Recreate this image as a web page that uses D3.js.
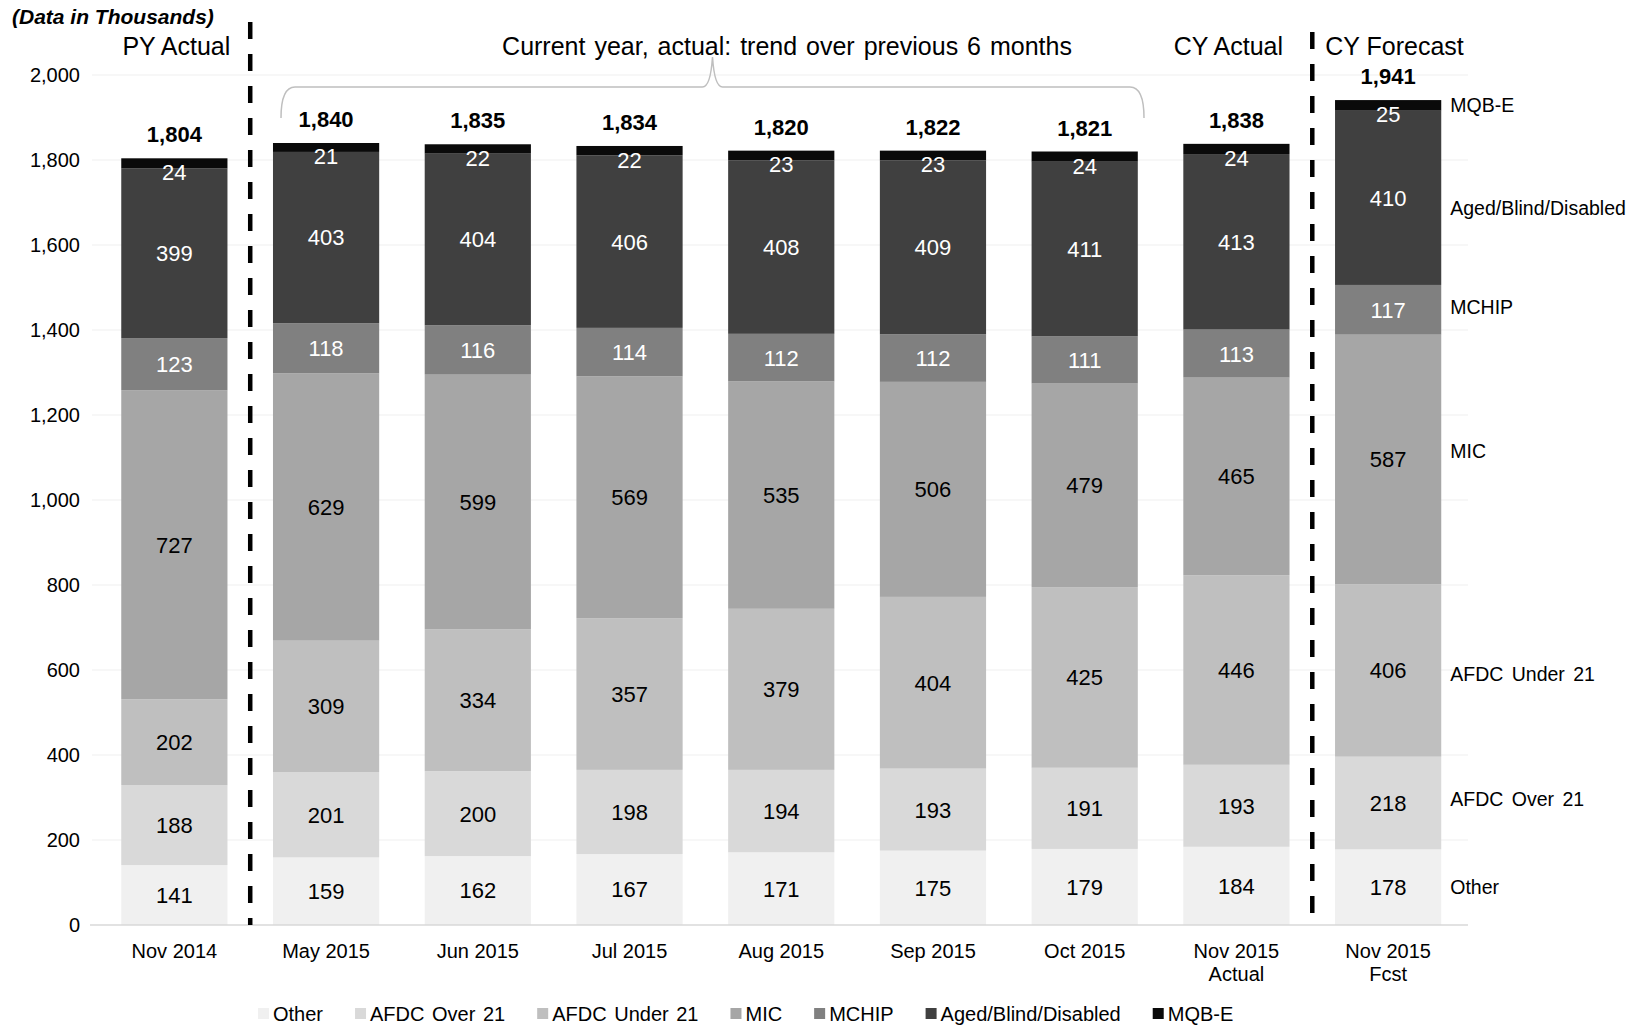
<!DOCTYPE html>
<html>
<head>
<meta charset="utf-8">
<script src="https://cdn.jsdelivr.net/npm/d3@7"></script>
<style>
  body { margin: 0; background: #fff; }
  text { font-family: "Liberation Sans", Arial, sans-serif; }
</style>
</head>
<body>
<script>
// values in thousands
const months = ["Nov 2014", "May 2015", "Jun 2015", "Jul 2015", "Aug 2015", "Sep 2015", "Oct 2015", "Nov 2015\nActual", "Nov 2015\nFcst"];
const seriesNames = ["Other", "AFDC Over 21", "AFDC Under 21", "MIC", "MCHIP", "Aged/Blind/Disabled", "MQB-E"];
const other = [141, 159, 162, 167, 171, 175, 179, 184, 178];
const afdcOver21 = [188, 201, 200, 198, 194, 193, 191, 193, 218];
const afdcUnder21 = [202, 309, 334, 357, 379, 404, 425, 446, 406];
const mic = [727, 629, 599, 569, 535, 506, 479, 465, 587];
const mchip = [123, 118, 116, 114, 112, 112, 111, 113, 117];
const abd = [399, 403, 404, 406, 408, 409, 411, 413, 410];
const mqbe = [24, 21, 22, 22, 23, 23, 24, 24, 25];
const totals = [1804, 1840, 1835, 1834, 1820, 1822, 1821, 1838, 1941];
const yTicks = [0, 200, 400, 600, 800, 1000, 1200, 1400, 1600, 1800, 2000];

const seriesValues = [other, afdcOver21, afdcUnder21, mic, mchip, abd, mqbe];
const colors = ["#f0f0f0", "#d9d9d9", "#bfbfbf", "#a6a6a6", "#808080", "#404040", "#0a0a0a"];
const labelColors = ["#000", "#000", "#000", "#000", "#fff", "#fff", "#fff"];

const W = 1648, H = 1028;
const svg = d3.select("body").append("svg").attr("width", W).attr("height", H);

const x = d3.scaleBand().domain(months).range([98.5, 1464]).paddingInner(0.3).paddingOuter(0.15);
const y = d3.scaleLinear().domain([0, 2000]).range([925, 75]);

// table for the stack
const table = months.map((m, i) => {
    const row = { month: m };
    seriesNames.forEach((s, k) => { row[s] = seriesValues[k][i]; });
    return row;
});
const stacked = d3.stack().keys(seriesNames)(table);

// gridlines
svg.append("g")
    .selectAll("line")
    .data(yTicks.filter(d => d > 0))
    .enter()
    .append("line")
    .attr("x1", 92).attr("x2", 1468)
    .attr("y1", d => y(d)).attr("y2", d => y(d))
    .attr("stroke", "#efefef").attr("stroke-width", 1);

// y axis labels
const yAxis = d3.axisLeft(y).tickValues(yTicks).tickSize(0).tickPadding(0).tickFormat(d3.format(","));
svg.append("g")
    .attr("transform", "translate(80,0)")
    .call(yAxis)
    .call(g => g.select(".domain").remove())
    .selectAll("text")
    .attr("font-size", 20).attr("fill", "#000")
    .attr("font-family", "Liberation Sans, Arial, sans-serif");

// bars
const layer = svg.append("g").selectAll("g")
    .data(stacked)
    .enter()
    .append("g")
    .attr("fill", (d, i) => colors[i]);

layer.selectAll("rect")
    .data(d => d)
    .enter()
    .append("rect")
    .attr("x", d => x(d.data.month))
    .attr("width", x.bandwidth())
    .attr("y", d => y(d[1]))
    .attr("height", d => y(d[0]) - y(d[1]));

// baseline
svg.append("line")
    .attr("x1", 90).attr("x2", 1468)
    .attr("y1", y(0)).attr("y2", y(0))
    .attr("stroke", "#d9d9d9").attr("stroke-width", 1.5);

// segment labels
stacked.forEach((s, k) => {
    svg.append("g").selectAll("text")
        .data(s)
        .enter()
        .append("text")
        .attr("x", d => x(d.data.month) + x.bandwidth() / 2)
        .attr("y", d => (y(d[0]) + y(d[1])) / 2 + (k === 6 ? 9 : 0))
        .attr("dy", "0.36em")
        .attr("text-anchor", "middle")
        .attr("font-size", 22)
        .attr("fill", labelColors[k])
        .text((d, i) => seriesValues[k][i]);
});

// totals
svg.append("g").selectAll("text")
    .data(months)
    .enter()
    .append("text")
    .attr("x", d => x(d) + x.bandwidth() / 2)
    .attr("y", (d, i) => y(stacked[6][i][1]) - 16)
    .attr("text-anchor", "middle")
    .attr("font-size", 22).attr("font-weight", "bold")
    .text((d, i) => d3.format(",")(totals[i]));

// category labels
const cats = svg.append("g").selectAll("text")
    .data(months)
    .enter()
    .append("text")
    .attr("text-anchor", "middle")
    .attr("font-size", 20)
    .attr("x", d => x(d) + x.bandwidth() / 2)
    .attr("y", 958);
cats.each(function (d) {
    const el = d3.select(this);
    d.split("\n").forEach((line, j) => {
        el.append("tspan")
            .attr("x", x(d) + x.bandwidth() / 2)
            .attr("dy", j === 0 ? 0 : 23)
            .text(line);
    });
});

// right side series labels next to forecast bar
const last = months.length - 1;
const rx = x(months[last]) + x.bandwidth() + 9;
const rOff = [0, -4, 4, -8, -3, 10, 0];
svg.append("g").selectAll("text")
    .data(stacked)
    .enter()
    .append("text")
    .attr("x", rx)
    .attr("y", (d, k) => (y(d[last][0]) + y(d[last][1])) / 2 + rOff[k])
    .attr("dy", "0.36em")
    .attr("font-size", 19.5)
    .attr("word-spacing", 3)
    .text(d => d.key);

// dashed dividers
const divX = [
    (x(months[0]) + x.bandwidth() + x(months[1])) / 2,
    (x(months[7]) + x.bandwidth() + x(months[8])) / 2
];
svg.append("g").selectAll("line")
    .data(divX)
    .enter()
    .append("line")
    .attr("x1", d => d).attr("x2", d => d)
    .attr("y1", (d, i) => i === 0 ? 22 : 32).attr("y2", y(0))
    .attr("stroke", "#000").attr("stroke-width", 4.5)
    .attr("stroke-dasharray", "17,15");

// headers
svg.append("text")
    .attr("x", 12).attr("y", 24)
    .attr("font-size", 21).attr("font-weight", "bold").attr("font-style", "italic")
    .text("(Data in Thousands)");

const headers = [
    { t: "PY Actual", x: x(months[0]) + x.bandwidth() / 2 + 2, a: "middle", ws: 0 },
    { t: "Current year, actual:  trend over previous 6 months", x: 787, a: "middle", ws: 2 },
    { t: "CY Actual", x: x(months[7]) + x.bandwidth() / 2 - 8, a: "middle", ws: 0 },
    { t: "CY Forecast", x: divX[1] + 13, a: "start", ws: 0 }
];
svg.append("g").selectAll("text")
    .data(headers)
    .enter()
    .append("text")
    .attr("x", d => d.x).attr("y", 55)
    .attr("text-anchor", d => d.a)
    .attr("word-spacing", d => d.ws)
    .attr("font-size", 25)
    .text(d => d.t);

// bracket over the 6 months
const bx0 = 281, bx1 = 1144, bm = (bx0 + bx1) / 2, by = 87;
const br = d3.path();
br.moveTo(bx0, 118);
br.quadraticCurveTo(bx0, by, bx0 + 14, by);
br.lineTo(bm - 10, by);
br.quadraticCurveTo(bm - 2, by, bm, 57);
br.quadraticCurveTo(bm + 2, by, bm + 10, by);
br.lineTo(bx1 - 14, by);
br.quadraticCurveTo(bx1, by, bx1, 118);
svg.append("path")
    .attr("d", br.toString())
    .attr("fill", "none")
    .attr("stroke", "#bfbfbf").attr("stroke-width", 1.5);

// legend
const legend = svg.append("g").attr("transform", "translate(258,1021)");
let lx = 0;
seriesNames.forEach((s, k) => {
    const g = legend.append("g").attr("transform", `translate(${lx},0)`);
    g.append("rect").attr("x", 0).attr("y", -13).attr("width", 11).attr("height", 11).attr("fill", colors[k]);
    const t = g.append("text").attr("x", 15).attr("y", 0).attr("font-size", 20).attr("word-spacing", 2).text(s);
    lx += 15 + t.node().getComputedTextLength() + 32;
});
</script>
</body>
</html>
